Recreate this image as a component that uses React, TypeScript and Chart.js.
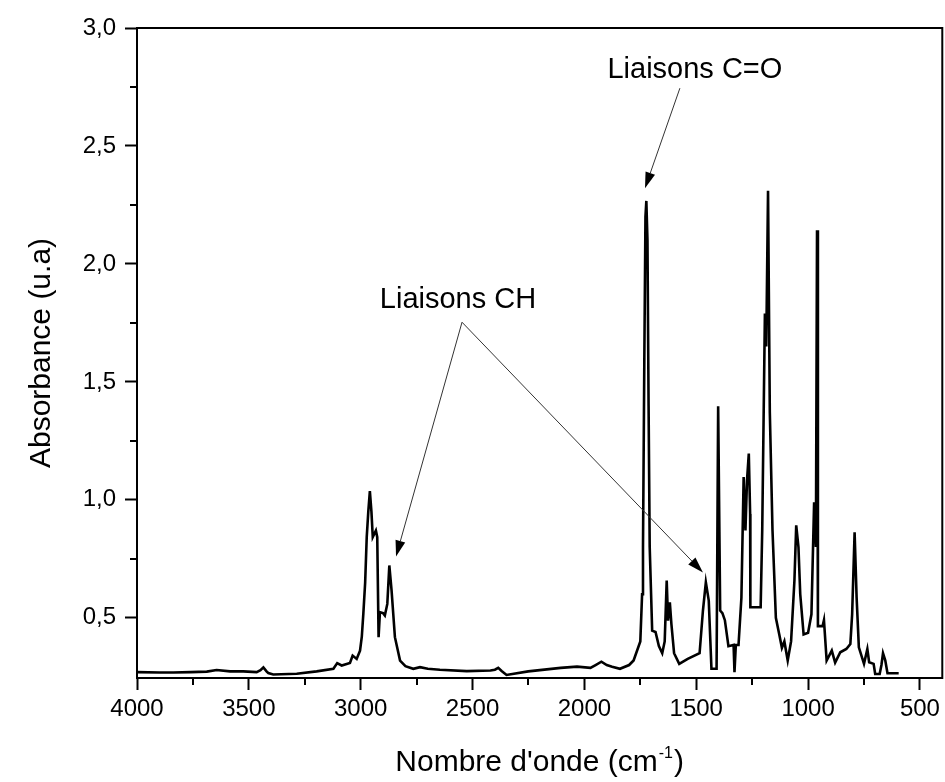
import React, { useEffect, useRef } from "react";
import { Chart, registerables } from "chart.js";

Chart.register(...registerables);

// ---- Data ----
const WAVENUMBER = [
  4000, 3900, 3838, 3760, 3688, 3644, 3584, 3525, 3465, 3448, 3435, 3420, 3413, 3391, 3286, 3197,
  3122, 3105, 3085, 3048, 3036, 3018, 3003, 2995, 2988, 2980, 2973, 2966, 2959, 2952, 2946, 2932,
  2926, 2920, 2914, 2900, 2892, 2881, 2872, 2862, 2847, 2824, 2800, 2765, 2735, 2700, 2646, 2526,
  2420, 2400, 2385, 2370, 2348, 2251, 2106, 2033, 1973, 1950, 1924, 1900, 1876, 1841, 1800, 1780,
  1750, 1742, 1738, 1732, 1727, 1723, 1718, 1713, 1708, 1697, 1682, 1667, 1652, 1641, 1632, 1626,
  1618, 1611, 1599, 1576, 1538, 1485, 1470, 1457, 1444, 1432, 1409, 1402, 1393, 1383, 1372, 1356,
  1333, 1329, 1323, 1311, 1298, 1288, 1280, 1273, 1265, 1259, 1258, 1212, 1205, 1193, 1187, 1179,
  1171, 1159, 1144, 1129, 1117, 1106, 1091, 1076, 1061, 1053, 1043, 1035, 1020, 1000, 985, 973,
  965, 960, 956, 935, 929, 917, 894, 879, 856, 829, 811, 803, 792, 783, 773, 750,
  735, 727, 707, 700, 680, 672, 665, 655, 645, 595,
];
const ABSORBANCE = [
  0.270, 0.268, 0.268, 0.270, 0.272, 0.279, 0.273, 0.273, 0.270, 0.278, 0.290, 0.272, 0.266, 0.260, 0.263, 0.273,
  0.284, 0.308, 0.298, 0.309, 0.340, 0.326, 0.361, 0.420, 0.520, 0.650, 0.842, 0.950, 1.037, 0.950, 0.842, 0.870,
  0.842, 0.418, 0.524, 0.520, 0.510, 0.559, 0.722, 0.616, 0.418, 0.319, 0.295, 0.284, 0.291, 0.284, 0.280, 0.274,
  0.277, 0.280, 0.288, 0.275, 0.258, 0.273, 0.288, 0.293, 0.288, 0.300, 0.314, 0.300, 0.293, 0.284, 0.300, 0.319,
  0.400, 0.600, 0.800, 1.600, 2.200, 2.267, 2.100, 1.400, 0.800, 0.446, 0.440, 0.380, 0.350, 0.400, 0.658, 0.488,
  0.566, 0.474, 0.350, 0.305, 0.326, 0.350, 0.531, 0.651, 0.573, 0.284, 0.284, 1.397, 0.531, 0.520, 0.490, 0.380,
  0.385, 0.270, 0.385, 0.385, 0.586, 1.097, 0.870, 1.083, 1.196, 0.940, 0.545, 0.545, 0.870, 1.790, 1.650, 2.310,
  1.370, 0.870, 0.500, 0.430, 0.373, 0.400, 0.319, 0.400, 0.658, 0.892, 0.800, 0.600, 0.430, 0.437, 0.515, 0.990,
  0.800, 2.143, 0.465, 0.465, 0.490, 0.319, 0.361, 0.310, 0.354, 0.368, 0.389, 0.515, 0.863, 0.586, 0.375, 0.305,
  0.368, 0.312, 0.305, 0.262, 0.262, 0.300, 0.350, 0.320, 0.265, 0.265,
];

const X_TICKS = [4000, 3500, 3000, 2500, 2000, 1500, 1000, 500];
const X_MINOR_TICKS = [3750, 3250, 2750, 2250, 1750, 1250, 750];
const Y_TICKS = [0.5, 1.0, 1.5, 2.0, 2.5, 3.0];
const Y_MINOR_TICKS = [0.75, 1.25, 1.75, 2.25, 2.75];
const X_MIN = 400;
const X_MAX = 4000;
const Y_MIN = 0.245;
const Y_MAX = 3.0;

const X_TITLE = "Nombre d'onde (cm";
const X_TITLE_SUP = "-1";
const X_TITLE_END = ")";
const Y_TITLE = "Absorbance (u.a)";

const ANNOT_TEXTS = ["Liaisons C=O", "Liaisons CH"];
const ANNOT_X = [1506, 2565];
const ANNOT_Y = [2.822, 1.846];
// arrows: from / to, in data units
const ARROW_FROM_X = [1573, 2547, 2547];
const ARROW_FROM_Y = [2.745, 1.753, 1.753];
const ARROW_TO_X = [1729, 2842, 1470];
const ARROW_TO_Y = [2.321, 0.76, 0.692];

const FONT = "'Liberation Sans', Arial, Helvetica, sans-serif";

const decorPlugin = {
  id: "decor",
  afterDraw(chart: any) {
    const { ctx, chartArea: a, scales } = chart;
    const xs = scales.x;
    const ys = scales.y;
    ctx.save();
    ctx.strokeStyle = "#000";
    ctx.lineWidth = 2;
    // frame top & right
    ctx.beginPath();
    ctx.moveTo(a.left - 1, a.top);
    ctx.lineTo(a.right, a.top);
    ctx.lineTo(a.right, a.bottom + 1);
    ctx.stroke();
    // minor ticks
    ctx.beginPath();
    X_MINOR_TICKS.forEach((v) => {
      const px = Math.round(xs.getPixelForValue(v));
      ctx.moveTo(px, a.bottom);
      ctx.lineTo(px, a.bottom + 7);
    });
    Y_MINOR_TICKS.forEach((v) => {
      const py = Math.round(ys.getPixelForValue(v));
      ctx.moveTo(a.left, py);
      ctx.lineTo(a.left - 7, py);
    });
    ctx.stroke();

    // arrows
    ctx.strokeStyle = "#333";
    ctx.fillStyle = "#000";
    ctx.lineWidth = 1;
    for (let i = 0; i < ARROW_FROM_X.length; i++) {
      const x1 = xs.getPixelForValue(ARROW_FROM_X[i]);
      const y1 = ys.getPixelForValue(ARROW_FROM_Y[i]);
      const x2 = xs.getPixelForValue(ARROW_TO_X[i]);
      const y2 = ys.getPixelForValue(ARROW_TO_Y[i]);
      const ang = Math.atan2(y2 - y1, x2 - x1);
      const L = 16;
      const W = 5;
      const bx = x2 - L * Math.cos(ang);
      const by = y2 - L * Math.sin(ang);
      ctx.beginPath();
      ctx.moveTo(x1, y1);
      ctx.lineTo(bx, by);
      ctx.stroke();
      ctx.beginPath();
      ctx.moveTo(x2, y2);
      ctx.lineTo(bx + W * Math.sin(ang), by - W * Math.cos(ang));
      ctx.lineTo(bx - W * Math.sin(ang), by + W * Math.cos(ang));
      ctx.closePath();
      ctx.fill();
    }

    // annotation texts
    ctx.fillStyle = "#000";
    ctx.font = `29px ${FONT}`;
    ctx.textAlign = "center";
    ctx.textBaseline = "middle";
    for (let i = 0; i < ANNOT_TEXTS.length; i++) {
      ctx.fillText(ANNOT_TEXTS[i], xs.getPixelForValue(ANNOT_X[i]), ys.getPixelForValue(ANNOT_Y[i]));
    }

    // x axis title with superscript
    ctx.textAlign = "left";
    ctx.textBaseline = "alphabetic";
    const mainFont = `30px ${FONT}`;
    const supFont = `16px ${FONT}`;
    ctx.font = mainFont;
    const w1 = ctx.measureText(X_TITLE).width;
    ctx.font = supFont;
    const w2 = ctx.measureText(X_TITLE_SUP).width;
    ctx.font = mainFont;
    const w3 = ctx.measureText(X_TITLE_END).width;
    const total = w1 + w2 + 2 + w3;
    const cx = (a.left + a.right) / 2;
    let tx = cx - total / 2;
    const baseY = 771;
    ctx.fillText(X_TITLE, tx, baseY);
    tx += w1 + 1;
    ctx.font = supFont;
    ctx.fillText(X_TITLE_SUP, tx, baseY - 13);
    tx += w2 + 1;
    ctx.font = mainFont;
    ctx.fillText(X_TITLE_END, tx, baseY);

    // y axis title
    ctx.save();
    ctx.translate(50, (a.top + a.bottom) / 2);
    ctx.rotate(-Math.PI / 2);
    ctx.textAlign = "center";
    ctx.textBaseline = "alphabetic";
    ctx.font = mainFont;
    ctx.fillText(Y_TITLE, 0, 0);
    ctx.restore();

    ctx.restore();
  },
};

export default function App() {
  const ref = useRef<HTMLCanvasElement | null>(null);
  useEffect(() => {
    document.body.style.margin = "0";
    const canvas = ref.current;
    if (!canvas) return;
    const points = WAVENUMBER.map((w, i) => ({ x: w, y: ABSORBANCE[i] }));
    const chart = new Chart(canvas, {
      type: "scatter",
      data: {
        datasets: [
          {
            data: points,
            showLine: true,
            borderColor: "#000",
            backgroundColor: "#000",
            borderWidth: 2.6,
            pointRadius: 0,
            tension: 0,
          } as any,
        ],
      },
      options: {
        animation: false,
        responsive: false,
        maintainAspectRatio: false,
        layout: { padding: { top: 28, right: 2, left: 0, bottom: 0 } },
        plugins: { legend: { display: false }, tooltip: { enabled: false } },
        scales: {
          x: {
            type: "linear",
            reverse: true,
            min: X_MIN,
            max: X_MAX,
            afterBuildTicks: (s: any) => {
              s.ticks = X_TICKS.map((v) => ({ value: v }));
            },
            afterFit: (s: any) => {
              s.height = 104;
            },
            grid: {
              drawOnChartArea: false,
              drawTicks: true,
              tickLength: 12,
              tickWidth: 2,
              tickColor: "#000",
            },
            border: { display: true, color: "#000", width: 2 },
            ticks: {
              color: "#000",
              font: { family: FONT, size: 24 },
              padding: 5,
              maxRotation: 0,
              autoSkip: false,
              callback: (v: any) => String(v),
            },
          },
          y: {
            type: "linear",
            min: Y_MIN,
            max: Y_MAX,
            afterBuildTicks: (s: any) => {
              s.ticks = Y_TICKS.map((v) => ({ value: v }));
            },
            afterFit: (s: any) => {
              s.width = 137;
            },
            grid: {
              drawOnChartArea: false,
              drawTicks: true,
              tickLength: 12,
              tickWidth: 2,
              tickColor: "#000",
            },
            border: { display: true, color: "#000", width: 2 },
            ticks: {
              color: "#000",
              font: { family: FONT, size: 24 },
              padding: 9,
              autoSkip: false,
              callback: (v: any) => Number(v).toFixed(1).replace(".", ","),
            },
          },
        },
      },
      plugins: [decorPlugin],
    });
    return () => chart.destroy();
  }, []);
  return (
    <div style={{ position: "absolute", left: 0, top: 0, width: 945, height: 782, background: "#fff" }}>
      <canvas ref={ref} width={945} height={782} style={{ display: "block" }} />
    </div>
  );
}
